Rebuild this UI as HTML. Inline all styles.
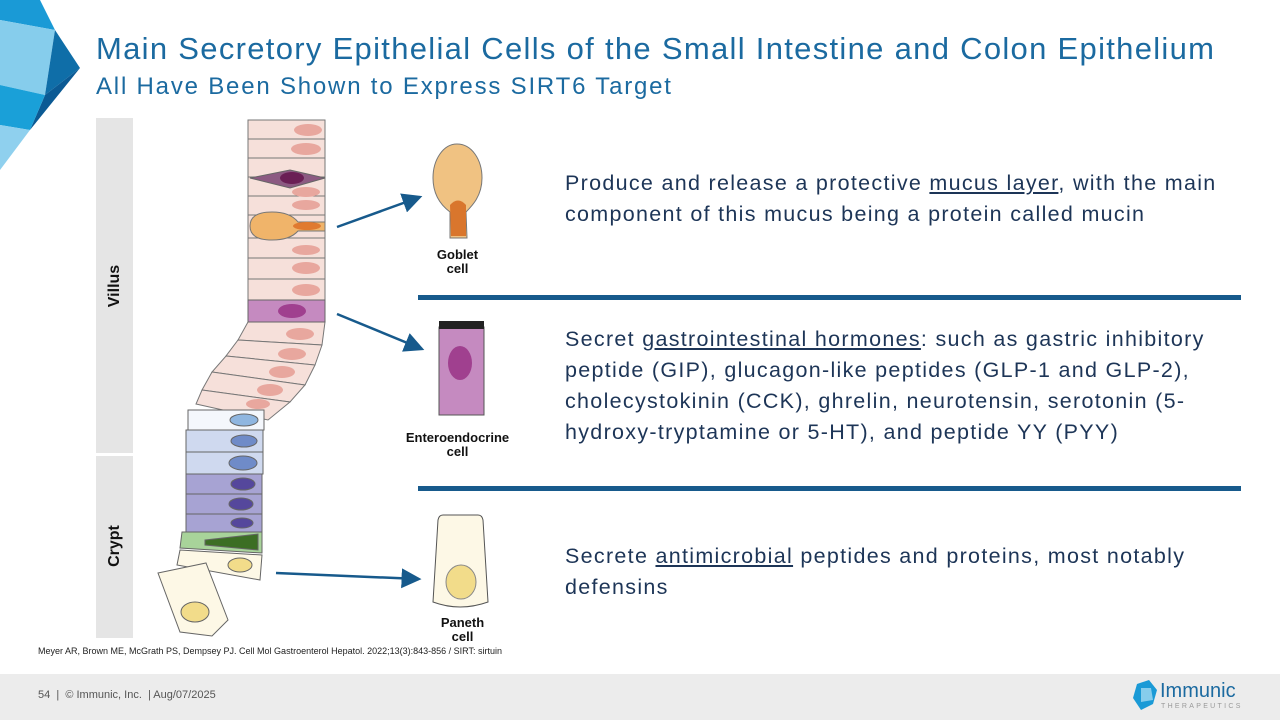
<!DOCTYPE html>
<html><head><meta charset="utf-8"><style>
body{margin:0;width:1280px;height:720px;position:relative;overflow:hidden;background:#fff;font-family:"Liberation Sans",sans-serif}
.t{position:absolute;color:#1b6aa0;white-space:nowrap}
.b{position:absolute;color:#1d3557;font-size:21.5px;line-height:31px;letter-spacing:1.3px;white-space:nowrap}
u{text-decoration:underline}
.bar{position:absolute;background:#e5e5e5;left:96px;width:37px}
.rl{position:absolute;font-weight:bold;font-size:16px;color:#111;transform:rotate(-90deg);transform-origin:center;white-space:nowrap}
.hr{position:absolute;left:418px;width:823px;height:5px;background:#175a8c}
.lab{position:absolute;font-weight:bold;font-size:13px;color:#111;text-align:center;line-height:14px}
</style></head><body>
<svg style="position:absolute;left:0;top:0" width="90" height="175">
<polygon points="0,0 40,0 55,30 0,20" fill="#1a9ad6"/>
<polygon points="0,20 55,30 45,95 0,85" fill="#86cdec"/>
<polygon points="55,30 80,68 45,95" fill="#0f6ea8"/>
<polygon points="45,95 80,68 30,130" fill="#0b5a94"/>
<polygon points="0,85 45,95 30,130 0,125" fill="#1aa0d8"/>
<polygon points="0,125 30,130 0,170" fill="#8fd0ee"/>
</svg>
<div class="t" style="left:96px;top:31px;font-size:31px;letter-spacing:1.3px">Main Secretory Epithelial Cells of the Small Intestine and Colon Epithelium</div>
<div class="t" style="left:96px;top:73px;font-size:24px;letter-spacing:1.8px">All Have Been Shown to Express SIRT6 Target</div>
<div class="bar" style="top:118px;height:335px"></div>
<div class="bar" style="top:456px;height:182px"></div>
<div class="rl" style="left:90px;top:277px;width:50px;text-align:center">Villus</div>
<div class="rl" style="left:90px;top:537px;width:50px;text-align:center">Crypt</div>
<svg style="position:absolute;left:0;top:0" width="1280" height="720">
<defs><marker id="a" markerWidth="8" markerHeight="8" refX="7" refY="4" orient="auto"><path d="M0,0 L8,4 L0,8 z" fill="#175a8c"/></marker></defs>
<g stroke="#777" stroke-width="1" fill="#f6e0da">
<rect x="248" y="120" width="77" height="19"/><rect x="248" y="139" width="77" height="19"/>
<rect x="248" y="158" width="77" height="19"/><rect x="248" y="177" width="77" height="19"/>
<rect x="248" y="196" width="77" height="19"/><rect x="248" y="215" width="77" height="23"/>
<rect x="248" y="238" width="77" height="20"/><rect x="248" y="258" width="77" height="21"/>
<rect x="248" y="279" width="77" height="21"/>
<polygon points="248,322 325,322 322,345 238,340"/>
<polygon points="238,340 322,345 315,365 226,356"/>
<polygon points="226,356 315,365 305,385 212,372"/>
<polygon points="212,372 305,385 290,402 202,390"/>
<polygon points="202,390 290,402 268,420 196,404"/>
</g>
<g fill="#e8a79e"><ellipse cx="308" cy="130" rx="14" ry="6"/><ellipse cx="306" cy="149" rx="15" ry="6"/><ellipse cx="306" cy="192" rx="14" ry="5"/><ellipse cx="306" cy="205" rx="14" ry="5"/><ellipse cx="306" cy="250" rx="14" ry="5"/><ellipse cx="306" cy="268" rx="14" ry="6"/><ellipse cx="306" cy="290" rx="14" ry="6"/><ellipse cx="300" cy="334" rx="14" ry="6"/><ellipse cx="292" cy="354" rx="14" ry="6"/><ellipse cx="282" cy="372" rx="13" ry="6"/><ellipse cx="270" cy="390" rx="13" ry="6"/><ellipse cx="258" cy="404" rx="12" ry="5"/></g>
<polygon points="250,178 290,170 325,178 290,188" fill="#8c5a82" stroke="#666"/><ellipse cx="292" cy="178" rx="12" ry="6" fill="#6a1f55"/>
<path d="M250,226 Q250,212 272,212 Q290,212 298,222 L325,222 L325,231 L298,231 Q290,240 272,240 Q250,240 250,226z" fill="#f0b46a" stroke="#777"/>
<ellipse cx="307" cy="226" rx="14" ry="4" fill="#e07a30"/>
<rect x="248" y="300" width="77" height="22" fill="#c58ac0" stroke="#666"/><ellipse cx="292" cy="311" rx="14" ry="7" fill="#a0408f"/>
<g stroke="#666">
<rect x="188" y="410" width="76" height="20" fill="#f4f7fc"/><ellipse cx="244" cy="420" rx="14" ry="6" fill="#8fb6e0"/>
<rect x="186" y="430" width="77" height="22" fill="#cfd9ef"/><ellipse cx="244" cy="441" rx="13" ry="6" fill="#6f8bc8"/>
<rect x="186" y="452" width="77" height="22" fill="#cfd9ef"/><ellipse cx="243" cy="463" rx="14" ry="7" fill="#6f8bc8"/>
<rect x="186" y="474" width="76" height="20" fill="#a7a3d3"/><ellipse cx="243" cy="484" rx="12" ry="6" fill="#55479c"/>
<rect x="186" y="494" width="76" height="20" fill="#a7a3d3"/><ellipse cx="241" cy="504" rx="12" ry="6" fill="#55479c"/>
<rect x="186" y="514" width="76" height="18" fill="#a7a3d3"/><ellipse cx="242" cy="523" rx="11" ry="5" fill="#55479c"/>
<polygon points="182,532 262,532 262,553 180,548" fill="#a8d39a"/><polygon points="205,540 258,534 258,550 205,545" fill="#3c6e24"/>
<polygon points="180,550 262,555 260,580 177,565" fill="#fdf8e6"/><ellipse cx="240" cy="565" rx="12" ry="7" fill="#f2dc8a"/>
<polygon points="158,573 206,563 228,620 212,636 180,632" fill="#fdf8e6"/><ellipse cx="195" cy="612" rx="14" ry="10" fill="#f2dc8a"/>
</g>
<g stroke="#175a8c" stroke-width="2.5" marker-end="url(#a)">
<line x1="337" y1="227" x2="420" y2="197"/><line x1="337" y1="314" x2="422" y2="349"/><line x1="276" y1="573" x2="419" y2="579"/>
</g>
<path d="M457,144 C472,144 482,160 482,178 C482,196 472,206 466,212 L467,238 L450,238 L450,212 C442,206 433,196 433,178 C433,160 443,144 457,144z" fill="#f0c282" stroke="#777"/>
<path d="M450,205 Q458,196 466,205 L466,236 L451,236z" fill="#d9762d"/>
<rect x="439" y="327" width="45" height="88" fill="#c58ac0" stroke="#555"/>
<rect x="439" y="321" width="45" height="8" fill="#222"/>
<ellipse cx="460" cy="363" rx="12" ry="17" fill="#a0408f"/>
<path d="M443,515 L478,515 Q482,515 483,520 L488,602 Q460,612 433,602 L438,520 Q439,515 443,515z" fill="#fdf8e6" stroke="#555"/>
<ellipse cx="461" cy="582" rx="15" ry="17" fill="#f2dc8a" stroke="#888"/>
</svg>
<div class="lab" style="left:410px;top:248px;width:95px">Goblet<br>cell</div>
<div class="lab" style="left:395px;top:431px;width:125px">Enteroendocrine<br>cell</div>
<div class="lab" style="left:410px;top:616px;width:105px">Paneth<br>cell</div>
<div class="b" style="left:565px;top:168px">Produce and release a protective <u>mucus layer</u>, with the main<br>component of this mucus being a protein called mucin</div>
<div class="hr" style="top:295px"></div>
<div class="b" style="left:565px;top:324px">Secret <u>gastrointestinal hormones</u>: such as gastric inhibitory<br>peptide (GIP), glucagon-like peptides (GLP-1 and GLP-2),<br>cholecystokinin (CCK), ghrelin, neurotensin, serotonin (5-<br>hydroxy-tryptamine or 5-HT), and peptide YY (PYY)</div>
<div class="hr" style="top:486px"></div>
<div class="b" style="left:565px;top:541px">Secrete <u>antimicrobial</u> peptides and proteins, most notably<br>defensins</div>
<div style="position:absolute;left:38px;top:646px;font-size:9px;color:#222">Meyer AR, Brown ME, McGrath PS, Dempsey PJ. Cell Mol Gastroenterol Hepatol. 2022;13(3):843-856 / SIRT: sirtuin</div>
<div style="position:absolute;left:0;top:674px;width:1280px;height:46px;background:#ececec"></div>
<div style="position:absolute;left:38px;top:689px;font-size:11px;color:#555">54 &nbsp;| &nbsp;© Immunic, Inc. &nbsp;| Aug/07/2025</div>
<svg style="position:absolute;left:1131px;top:680px" width="28" height="32"><polygon points="6,4 18,0 26,10 22,24 10,30 2,18" fill="#1a9ad6"/><polygon points="10,8 20,8 22,20 10,22" fill="#86cdec"/></svg>
<div style="position:absolute;left:1160px;top:680px;font-size:20px;color:#1b6aa0">Immunic</div>
<div style="position:absolute;left:1161px;top:703px;font-size:7px;letter-spacing:2.3px;color:#999">THERAPEUTICS</div>
</body></html>
